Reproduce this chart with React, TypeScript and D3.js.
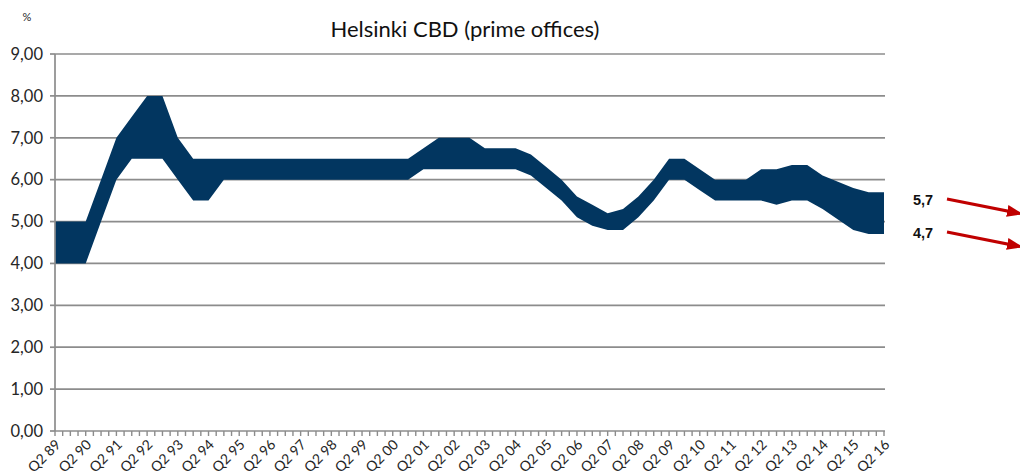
import React from "react";
import * as d3 from "d3";

// Tick labels (years shown as "Q2 YY")
const years: string[] = ["89","90","91","92","93","94","95","96","97","98","99","00","01","02","03","04","05","06","07","08","09","10","11","12","13","14","15","16"];

// Semi-annual observations (Q2, Q4) from Q2 89 to Q2 16
const upper: number[] = [
  5.0, 5.0, 5.0, 6.0, 7.0, 7.5, 8.0, 8.0, 7.0, 6.5,
  6.5, 6.5, 6.5, 6.5, 6.5, 6.5, 6.5, 6.5, 6.5, 6.5,
  6.5, 6.5, 6.5, 6.5, 6.75, 7.0, 7.0, 7.0, 6.75, 6.75,
  6.75, 6.6, 6.3, 6.0, 5.6, 5.4, 5.2, 5.3, 5.6, 6.0,
  6.5, 6.5, 6.25, 6.0, 6.0, 6.0, 6.25, 6.25, 6.35, 6.35,
  6.1, 5.95, 5.8, 5.7, 5.7,
];
const lower: number[] = [
  4.0, 4.0, 4.0, 5.0, 6.0, 6.5, 6.5, 6.5, 6.0, 5.5,
  5.5, 6.0, 6.0, 6.0, 6.0, 6.0, 6.0, 6.0, 6.0, 6.0,
  6.0, 6.0, 6.0, 6.0, 6.25, 6.25, 6.25, 6.25, 6.25, 6.25,
  6.25, 6.1, 5.8, 5.5, 5.1, 4.9, 4.8, 4.8, 5.1, 5.5,
  6.0, 6.0, 5.75, 5.5, 5.5, 5.5, 5.5, 5.4, 5.5, 5.5,
  5.3, 5.05, 4.8, 4.7, 4.7,
];
const yTicks: number[] = [0, 1, 2, 3, 4, 5, 6, 7, 8, 9];
const annotations: { label: string; value: number }[] = [
  { label: "5,7", value: 5.7 },
  { label: "4,7", value: 4.7 },
];

const W = 1020;
const H = 475;
const left = 55;
const right = 884;
const top = 54;
const bottom = 431;
const nQuarters = (years.length - 1) * 4; // 108 intervals

export default function App() {
  const x = d3.scaleLinear().domain([0, nQuarters]).range([left, right]);
  const y = d3.scaleLinear().domain([0, 9]).range([bottom, top]);
  const pts = upper.map((u, k) => ({ q: k * 2, u, l: lower[k] }));
  const area = d3
    .area<{ q: number; u: number; l: number }>()
    .x((d) => x(d.q))
    .y0((d) => y(d.l))
    .y1((d) => y(d.u))
    .curve(d3.curveLinear);
  const quarterTicks = d3.range(0, nQuarters + 1);
  const fmt = (v: number) => v.toFixed(2).replace(".", ",");
  const gridColor = "#8c8c8c";
  const textColor = "#262626";
  const font = "Lato, 'Open Sans', sans-serif";

  return (
    <svg
      width={W}
      height={H}
      style={{ position: "absolute", left: 0, top: 0, background: "#fff" }}
    >
      <defs>
        <marker
          id="arrowhead"
          markerWidth="16"
          markerHeight="12"
          refX="13"
          refY="6"
          orient="auto"
          markerUnits="userSpaceOnUse"
        >
          <path d="M0,0 L16,6 L0,12 Z" fill="#c00000" />
        </marker>
      </defs>
      <text
        x={465}
        y={37}
        textAnchor="middle"
        fontFamily={font}
        fontSize={22}
        fill="#111"
      >
        Helsinki CBD (prime offices)
      </text>
      <text x={27} y={21} textAnchor="middle" fontFamily={font} fontSize={11} fill={textColor}>
        %
      </text>
      {yTicks.map((t) => (
        <g key={t}>
          {t > 0 && (
            <line x1={left} x2={right + 1} y1={y(t)} y2={y(t)} stroke={gridColor} strokeWidth={1.7} />
          )}
          <line x1={left - 5} x2={left} y1={y(t)} y2={y(t)} stroke={gridColor} strokeWidth={1.7} />
          <text
            x={43}
            y={y(t)}
            dy="0.35em"
            textAnchor="end"
            fontFamily={font}
            fontSize={16.5}
            fill={textColor}
          >
            {fmt(t)}
          </text>
        </g>
      ))}
      <path d={area(pts) || ""} fill="#023660" />
      <line x1={left} x2={left} y1={top} y2={bottom} stroke={gridColor} strokeWidth={1.7} />
      <line x1={left} x2={right + 1} y1={bottom} y2={bottom} stroke={gridColor} strokeWidth={1.7} />
      {quarterTicks.map((q) => (
        <line key={q} x1={x(q)} x2={x(q)} y1={bottom} y2={bottom + 5} stroke={gridColor} strokeWidth={1.4} />
      ))}
      {years.map((yr, j) => (
        <text
          key={yr}
          transform={`translate(${x(j * 4) + 3},${bottom + 11}) rotate(-45)`}
          textAnchor="end"
          dy="0.35em"
          fontFamily={font}
          fontSize={14}
          fill={textColor}
        >
          {`Q2 ${yr}`}
        </text>
      ))}
      {annotations.map((a, i) => {
        const baseY = i === 0 ? 205 : 238;
        return (
          <g key={a.label}>
            <text
              x={913}
              y={baseY}
              fontFamily="'Liberation Sans', Arial, sans-serif"
              fontWeight="bold"
              fontSize={14.5}
              fill="#111"
            >
              {a.label}
            </text>
            <line
              x1={947}
              y1={baseY - 6}
              x2={1020}
              y2={baseY + 8.5}
              stroke="#c00000"
              strokeWidth={3}
              markerEnd="url(#arrowhead)"
            />
          </g>
        );
      })}
    </svg>
  );
}
